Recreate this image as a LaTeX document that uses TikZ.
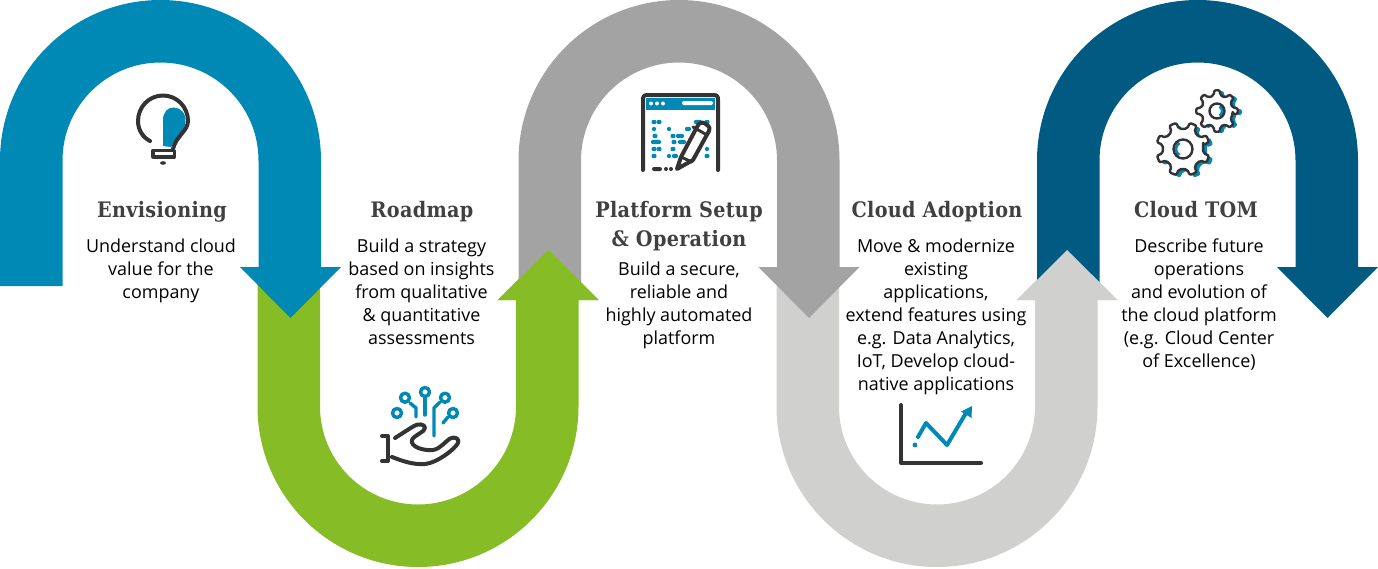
\documentclass[tikz,border=0pt]{standalone}
\usepackage{fontspec}
\setmainfont{Open Sans}
\newfontfamily\headfont{DejaVu Serif Condensed}[LetterSpace=1.5]
\usetikzlibrary{calc}
\definecolor{cblue}{HTML}{0089B5}
\definecolor{cgreen}{HTML}{86BC25}
\definecolor{cgray}{HTML}{A3A3A3}
\definecolor{clight}{HTML}{D0D0CE}
\definecolor{cnavy}{HTML}{005A82}
\definecolor{cink}{HTML}{333333}
\definecolor{chead}{HTML}{404040}
\tikzset{
 x=0.75pt,y=-0.75pt,
 head/.style={font=\headfont\bfseries\fontsize{16}{22}\selectfont,text=chead,align=center,anchor=base},
 body/.style={font=\fontsize{13.45}{17.3}\selectfont,text=black,align=center,anchor=north},
 ink/.style={draw=cink,line width=3pt,line cap=round,line join=round},
 teal/.style={draw=cblue,line width=3pt,line cap=round,line join=round},
 thin ink/.style={draw=cink,line width=1.8pt,line cap=round,line join=round},
 thin teal/.style={draw=cblue,line width=2.6pt,line cap=round,line join=round},
}
% top arch: centre x, colour, end y of the left leg
\newcommand{\archband}[3]{%
 \fill[#2] (#1-160.5,#3) -- (#1-160.5,160.5) arc[start angle=180,end angle=360,x radius=160.5,y radius=160.5]
   -- (#1+160.5,267) -- (#1+180.5,267) -- (#1+130,318) -- (#1+79.5,267) -- (#1+98,267) -- (#1+98,160.5)
   arc[start angle=360,end angle=180,x radius=98,y radius=98] -- (#1-98,#3) -- cycle;}
% bottom U: centre x, colour
\newcommand{\uband}[2]{%
 \fill[#2] (#1-160.5,275) -- (#1-160.5,406.5) arc[start angle=180,end angle=0,x radius=160.5,y radius=160.5]
   -- (#1+160.5,300) -- (#1+180.5,300) -- (#1+130,250) -- (#1+79.5,300) -- (#1+98,300) -- (#1+98,406.5)
   arc[start angle=0,end angle=180,x radius=98,y radius=98] -- (#1-98,275) -- cycle;}
% cx cy router rotation style
\newcommand{\gearoutline}[5]{%
 \pgfmathsetmacro{\ri}{#3*0.76}
 \path[#5,rounded corners=1.5pt] ($(#1,#2)+({#4-11}:{\ri*0.75pt})$)
 \foreach \k in {0,...,7}{
   -- ($(#1,#2)+({45*\k+#4-11}:{\ri*0.75pt})$)
   -- ($(#1,#2)+({45*\k+#4-8}:{#3*0.75pt})$)
   -- ($(#1,#2)+({45*\k+#4+8}:{#3*0.75pt})$)
   -- ($(#1,#2)+({45*\k+#4+11}:{\ri*0.75pt})$)
 } -- cycle;}
\begin{document}
\begin{tikzpicture}
\useasboundingbox (0,0) rectangle (1378,568);
% bands
\uband{418}{cgreen}
\archband{160.5}{cblue}{286}
\uband{937}{clight}
\archband{679}{cgray}{290}
\archband{1197.5}{cnavy}{290}
\fill[cgreen] (498,300) -- (548.5,250) -- (599,300) -- cycle;
\fill[clight] (1017,300) -- (1067,250) -- (1117.5,300) -- cycle;
% headings
\node[head] (h1) at (162,217) {Envisioning};
\node[head] (h2) at (422,217) {Roadmap};
\node[head] (h3) at (679,217) {Platform Setup};
\node[head] (h3b) at (679,246) {\& Operation};
\node[head] (h4) at (937,217) {Cloud Adoption};
\node[head] (h5) at (1196,217) {Cloud TOM};
% bodies
\node[body] (b1) at (161,234) {Understand cloud\\value for the\\company};
\node[body] (b2) at (421.5,234) {Build a strategy\\based on insights\\from qualitative\\\& quantitative\\assessments};
\node[body] (b3) at (679,257) {Build a secure,\\reliable and\\highly automated\\platform};
\node[body] (b4) at (936,234) {Move \& modernize\\existing\\applications,\\extend features using\\e.g. Data Analytics,\\IoT, Develop cloud-\\native applications};
\node[body] (b5) at (1199,234) {Describe future\\operations\\and evolution of\\the cloud platform\\(e.g. Cloud Center\\of Excellence)};
% bulb
\fill[cblue] (163,146) -- (163,120) .. controls (163,112) and (168,107) .. (174,107.5) .. controls (181,108) and (186,113) .. (185.5,122) .. controls (185,131) and (176,136) .. (171,147) -- cycle;
\draw[ink] (150,141) .. controls (144,138) and (138,131) .. (138,121) .. controls (138,107) and (149,95.5) .. (163,95.5) .. controls (177,95.5) and (188,107) .. (188,121) .. controls (188,131) and (176,136) .. (173,149);
\draw[draw=cink,line width=2.3pt,line join=round] (153,150.5) rectangle (174.5,157);
\fill[cink] (163,163) ellipse[x radius=3,y radius=1.8];
% hand
\draw[thin teal] (405,397.7) circle[radius=4.5];
\draw[thin teal] (425,392) circle[radius=4.5];
\draw[thin teal] (445,397.7) circle[radius=4.5];
\draw[thin teal] (397,413) circle[radius=4.5];
\draw[thin teal] (453,413) circle[radius=4.5];
\draw[thin teal] (410,403) -- (416,408) -- (416,417);
\draw[thin teal] (425,398) -- (425,415);
\draw[thin teal] (440,402) -- (434,408) -- (434,436);
\draw[thin teal] (448,417) -- (443,423);
\draw[ink] (395,438) -- (413,426.5) .. controls (418,423) and (425,424) .. (425,428) .. controls (425,432) and (414,435) .. (412,440) .. controls (410,447) and (424,451) .. (433,450) .. controls (440,449) and (446,441) .. (450,438.5) .. controls (455,436) and (460,439) .. (458,443) .. controls (455,449) and (437,463) .. (425,464) .. controls (412,465) and (400,460) .. (392,457);
\draw[ink] (382,436) -- (388,436) -- (388,461) -- (382,461);
% browser
\fill[cblue] (646,98) rectangle (715,110);
\foreach \x in {651,657,663}{\fill[white] (\x,103.5) circle[radius=2];}
\fill[white,rounded corners=1pt] (682,101) rectangle (713,105);
\draw[ink] (643,170) -- (643,100) .. controls (643,96) and (644,95) .. (648,95) -- (713,95) .. controls (717,95) and (718,96) .. (718,100) -- (718,170);
\foreach \x/\y/\w in {654/122/2.5,659/122/2.5,654/129/2,669/129/2,698/122/4,707/122/2.5,688/129/3,655/136/2.5,673/136/2.5,680/136/4,656/142/5,674/142/2.5,682/142/4,654/149/2.5,659/149/2.5,673/149/2.5,707/149/2,654/156/2.5,669/156/2,675/156/3,707/156/2.5}
 {\fill[cblue,rounded corners=1.5pt] (\x-\w,\y-2.2) rectangle (\x+\w,\y+2.2);}
\fill[cink,rounded corners=1.5pt] (652,167) rectangle (662,171);
\fill[cink] (666,169) circle[radius=2];\fill[cink] (671,169) circle[radius=2];
\fill[white] (677,169) -- (681,157) -- (698,123) -- (710,128) -- (693,163) -- cycle;
\draw[ink] (677,169) -- (681,157) -- (697,127) .. controls (699,122) and (702,122) .. (705,123.5) -- (707,125) .. controls (710,127) and (710,129) .. (709,131) -- (693,160) -- cycle;
\draw[thin ink,line width=2.2pt] (693,127) -- (707,135);
\draw[thin ink,line width=2.2pt] (681,157) -- (692,162);
% chart
\draw[ink] (901,405) -- (901,463) -- (981,463);
\fill[cblue] (915,445) circle[radius=2.4];
\draw[teal] (918,437) -- (926,423) -- (947,445) -- (966,413);
\fill[cblue] (961,411.5) -- (972,406) -- (971.5,418) -- cycle;
% gears
\gearoutline{1187}{151.5}{27}{22.5}{fill=cblue}
\gearoutline{1221}{112}{21}{0}{fill=cblue}
\gearoutline{1183}{149}{27}{22.5}{thin ink,draw,fill=white}
\gearoutline{1217}{111}{21}{0}{thin ink,draw,fill=white}
\draw[cblue,line width=2pt] (1183,149) ++(120:7) arc[start angle=120,end angle=240,radius=7];
\draw[cblue,line width=2.2pt] (1217,111) ++(-60:5.5) arc[start angle=-60,end angle=60,radius=5.5];
\draw[thin ink] (1183,149) circle[radius=9.5];
\draw[thin ink] (1217,111) circle[radius=7.5];
\end{tikzpicture}
\end{document}
